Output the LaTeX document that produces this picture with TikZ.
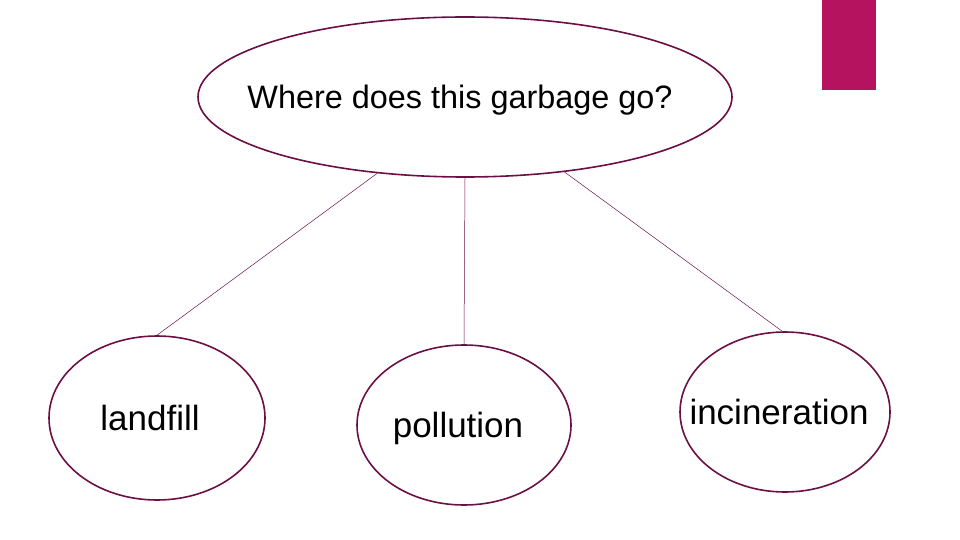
\documentclass[tikz,border=0pt]{standalone}
\usepackage{fontspec}
\setmainfont{Liberation Sans}
\usetikzlibrary{shapes.geometric}
\definecolor{edge}{HTML}{6B0F45}
\definecolor{pinkbar}{HTML}{B5135F}
\begin{document}
\begin{tikzpicture}[x=1pt,y=-1pt,
  bub/.style={ellipse,draw=edge,line width=1.6pt,inner sep=0pt},
  link/.style={draw=edge,line width=0.5pt}]
\useasboundingbox (0,0) rectangle (960,540);
\fill[pinkbar] (822,0) rectangle (876,90);
\node[bub,minimum width=534,minimum height=160] (top) at (465,97) {};
\node[font=\fontsize{32.4}{36}\selectfont] (toptext) at (460,100) {Where does this garbage go?};
\node[bub,minimum width=216,minimum height=164] (land) at (157,418) {};
\node[font=\fontsize{35}{40}\selectfont] (landtext) at (150,418) {landfill};
\node[bub,minimum width=214,minimum height=160] (poll) at (464,425) {};
\node[font=\fontsize{35}{40}\selectfont] (polltext) at (458,428) {pollution};
\node[bub,minimum width=210,minimum height=160] (inc) at (785,412) {};
\node[font=\fontsize{35}{40}\selectfont] (inctext) at (779,412) {incineration};
\draw[link] (top.-139) -- (land.90);
\draw[link] (top.-90) -- (poll.90);
\draw[link] (top.-37) -- (inc.92);
\end{tikzpicture}
\end{document}
